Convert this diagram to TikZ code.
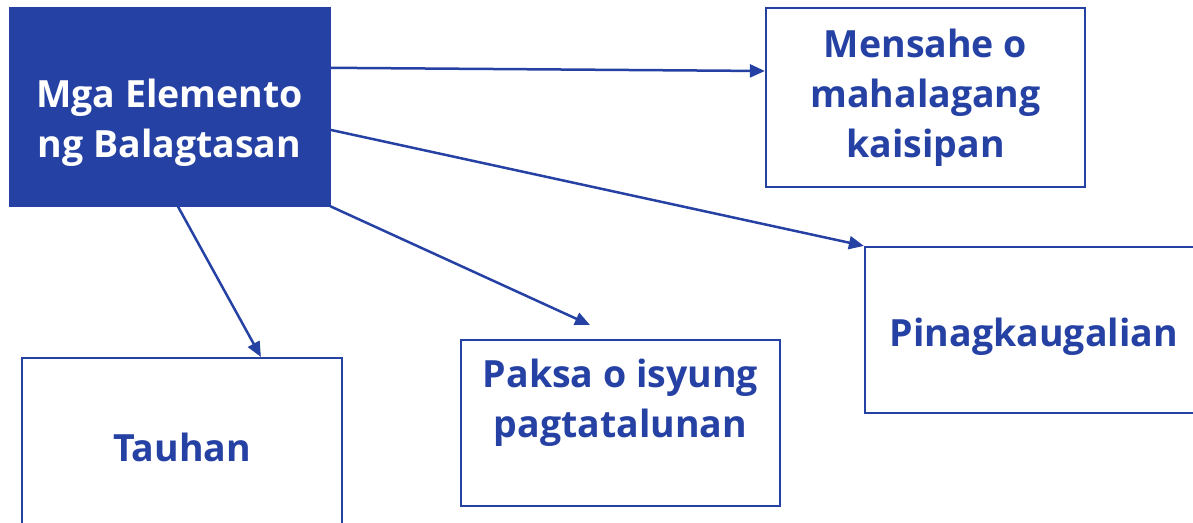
\documentclass[tikz,border=0pt]{standalone}
\usepackage{fontspec}
\setmainfont{Open Sans}
\usetikzlibrary{arrows.meta}
\definecolor{navy}{HTML}{2541A3}
\tikzset{
  box/.style={draw=navy, line width=2.2pt, rectangle, inner sep=0pt},
  mainbox/.style={fill=navy, draw=navy, rectangle, inner sep=0pt},
  lbl/.style={font=\fontsize{37.5}{50}\selectfont\bfseries, text=navy, align=center, inner sep=0pt},
  mainlbl/.style={lbl, text=white},
  conn/.style={draw=navy, line width=2.5pt, -{Triangle[length=15pt,width=13pt]}}
}
\begin{document}
\begin{tikzpicture}[x=1pt,y=-1pt]
\useasboundingbox (0,0) rectangle (1193,522);
\clip (0,0) rectangle (1193,522);
% boxes
\node[mainbox, minimum width=321pt, minimum height=199pt] (main) at (169.5,106.5) {};
\node[box, minimum width=319pt, minimum height=179pt] (mens) at (925.5,97.5) {};
\node[box, minimum width=338pt, minimum height=166pt] (pinag) at (1034,330) {};
\node[box, minimum width=320pt, minimum height=178pt] (tau) at (182,447) {};
\node[box, minimum width=319pt, minimum height=166pt] (paksa) at (620.5,423) {};
% labels
\node[mainlbl] (mainT) at (169.5,123) {Mga Elemento\\ng Balagtasan};
\node[lbl] (mensT) at (925.5,98) {Mensahe o\\mahalagang\\kaisipan};
\node[lbl] (pinagT) at (1034,337) {Pinagkaugalian};
\node[lbl] (tauT) at (182,447) {Tauhan};
\node[lbl] (paksaT) at (620.5,403) {Paksa o isyung\\pagtatalunan};
% connectors
\coordinate (paksaTip) at (590,325);
\draw[conn] ([yshift=-61pt]main.north east) -- ([yshift=26.5pt]mens.west);
\draw[conn] ([yshift=-123pt]main.north east) -- (pinag.north west);
\draw[conn] ([xshift=169pt]main.south west) -- ([xshift=240pt]tau.north west);
\draw[conn] (main.south east) -- (paksaTip);
\end{tikzpicture}
\end{document}
